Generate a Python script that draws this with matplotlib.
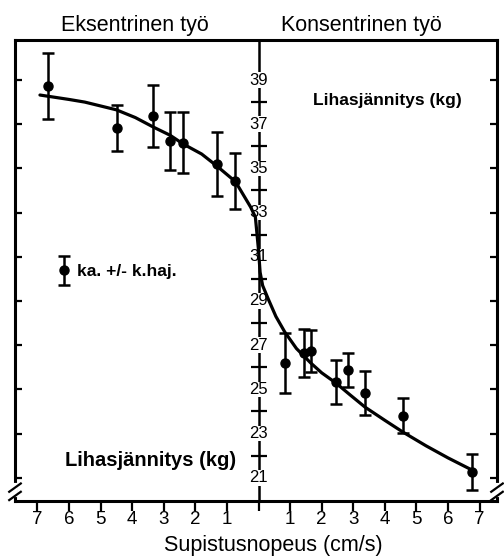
import matplotlib
matplotlib.use("Agg")
import matplotlib.pyplot as plt
from matplotlib.legend_handler import HandlerErrorbar

plt.rcParams['font.family'] = ['Liberation Sans', 'DejaVu Sans']

# ---- data ----
# eccentric work (plotted on the left, speed shown as positive labels)
ecc_speed = [6.67, 4.48, 3.33, 2.79, 2.38, 1.33, 0.73]
ecc_force = [38.73, 36.83, 37.37, 36.24, 36.15, 35.20, 34.43]
ecc_sd = [1.49, 1.06, 1.40, 1.29, 1.38, 1.43, 1.27]

# concentric work (right side)
conc_speed = [0.83, 1.43, 1.65, 2.44, 2.83, 3.37, 4.57, 6.76]
conc_force = [26.20, 26.65, 26.74, 25.33, 25.88, 24.84, 23.80, 21.26]
conc_sd = [1.36, 1.08, 0.97, 1.00, 0.77, 1.00, 0.79, 0.80]

# fitted curve, signed speed (negative = eccentric)
curve_x = [-6.92, -6.0, -5.5, -4.5, -3.9, -3.33, -2.8, -2.38, -1.8, -1.33, -0.73,
           -0.25, -0.1, 0.0, 0.05, 0.13, 0.32, 0.55, 0.83, 1.2, 1.65, 2.0,
           2.44, 2.9, 3.37, 4.0, 4.57, 5.3, 6.0, 6.76]
curve_y = [38.32, 38.12, 38.0, 37.65, 37.3, 36.87, 36.5, 36.1, 35.65, 35.12, 34.4,
           33.25, 32.8, 31.3, 30.3, 29.7, 29.05, 28.3, 27.6, 26.85, 26.2, 25.75,
           25.3, 24.75, 24.2, 23.6, 23.07, 22.45, 21.9, 21.35]

speed_ticks = [-7, -6, -5, -4, -3, -2, -1, 0, 1, 2, 3, 4, 5, 6, 7]
speed_labels = ['7', '6', '5', '4', '3', '2', '1', '', '1', '2', '3', '4', '5', '6', '7']
force_labels = [39, 37, 35, 33, 31, 29, 27, 25, 23, 21]
force_minor = [38, 36, 34, 32, 30, 28, 26, 24, 22]

W, H = 504, 556
fig = plt.figure(figsize=(W / 100, H / 100), dpi=100)
ax = fig.add_axes([15 / W, 1 - 501 / H, 482 / W, 461 / H])
ax.set_xlim(-7.71, 7.55)
ax.set_ylim(19.95, 40.81)

for s in ax.spines.values():
    s.set_linewidth(2.2)

# x ticks
ax.set_xticks(speed_ticks)
ax.set_xticklabels(speed_labels, fontsize=13.5)
ax.tick_params(axis='x', direction='out', length=7, width=1.6, pad=0.5)
# y ticks (inward on both sides, no labels)
ax.set_yticks(force_labels)
ax.set_yticklabels([])
ax.tick_params(axis='y', direction='in', length=5, width=1.6, left=True, right=True)

# central axis
ax.axvline(0, color='black', lw=1.8, zorder=1)
ax.plot([0] * len(force_minor), force_minor, ls='none', marker='_', ms=11,
        mew=1.6, color='black', zorder=2)
for v in force_labels:
    ax.text(0, v, str(v), ha='center', va='center', fontsize=12, zorder=3,
            bbox=dict(fc='white', ec='none', pad=0.2))

# curve
ax.plot(curve_x, curve_y, color='black', lw=2.3, zorder=4, solid_capstyle='round')

# data with error bars
eb = ax.errorbar([-v for v in ecc_speed], ecc_force, yerr=ecc_sd, fmt='o',
                 color='black', ms=6.5, elinewidth=1.8, capsize=4, capthick=1.8,
                 zorder=5, label='ka. +/- k.haj.')
ax.errorbar(conc_speed, conc_force, yerr=conc_sd, fmt='o', color='black', ms=6.5,
            elinewidth=1.8, capsize=4, capthick=1.8, zorder=5)

leg = ax.legend(loc='center left', bbox_to_anchor=(0.091, 0.497), frameon=False,
                handlelength=0.6, handletextpad=0.45, borderpad=0, borderaxespad=0,
                handler_map={eb: HandlerErrorbar(yerr_size=0.85)},
                prop=dict(size=12.5, weight='bold'))

# break marks at the lower corners
for xa in (0.0, 1.0):
    ax.plot([xa, xa], [0.012, 0.034], transform=ax.transAxes, color='white',
            lw=3, clip_on=False, zorder=6)
    for yo in (0.012, 0.030):
        ax.plot([xa - 0.012, xa + 0.012], [yo - 0.010, yo + 0.008],
                transform=ax.transAxes, color='black', lw=1.6, clip_on=False, zorder=7)

# texts
fig.text(135 / W, 1 - 26 / H, 'Eksentrinen työ', ha='center', va='center', fontsize=15.5)
fig.text(361 / W, 1 - 26 / H, 'Konsentrinen työ', ha='center', va='center', fontsize=15.5)
fig.text(387 / W, 1 - 100 / H, 'Lihasjännitys (kg)', ha='center', va='center',
         fontsize=12.5, fontweight='bold')
fig.text(151 / W, 1 - 460 / H, 'Lihasjännitys (kg)', ha='center', va='center',
         fontsize=14.5, fontweight='bold')
fig.text(273 / W, 1 - 545 / H, 'Supistusnopeus (cm/s)', ha='center', va='center',
         fontsize=15.5)

fig.savefig('out.png', dpi=100)
